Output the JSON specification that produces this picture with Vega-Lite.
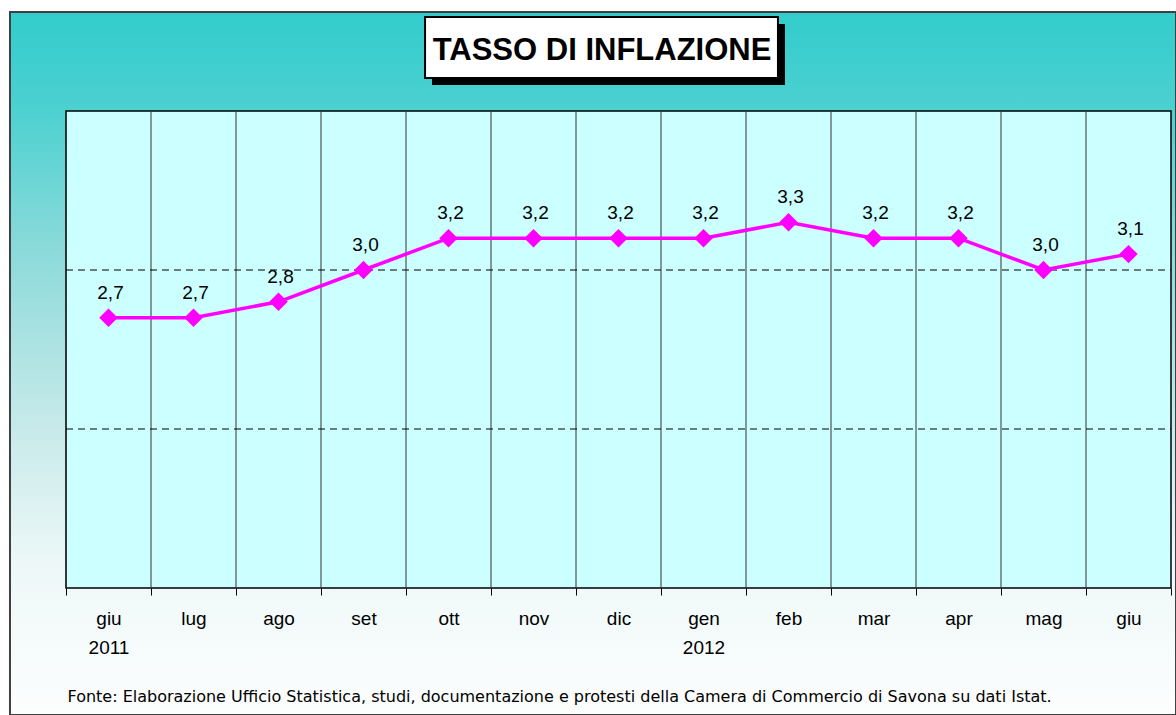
{
  "$schema": "https://vega.github.io/schema/vega-lite/v6.json",
  "width": 1105,
  "height": 477,
  "autosize": {"type": "none"},
  "padding": {"left": 66, "top": 111, "right": 5, "bottom": 127},
  "background": "white",
  "config": {
    "font": "Liberation Sans",
    "view": {"fill": null, "stroke": null}
  },
  "resolve": {"scale": {"x": "independent"}},
  "data": {
    "values": [
      {"m": "giu 2011", "v": 2.7, "lab": "2,7"},
      {"m": "lug", "v": 2.7, "lab": "2,7"},
      {"m": "ago", "v": 2.8, "lab": "2,8"},
      {"m": "set", "v": 3.0, "lab": "3,0"},
      {"m": "ott", "v": 3.2, "lab": "3,2"},
      {"m": "nov", "v": 3.2, "lab": "3,2"},
      {"m": "dic", "v": 3.2, "lab": "3,2"},
      {"m": "gen 2012", "v": 3.2, "lab": "3,2"},
      {"m": "feb", "v": 3.3, "lab": "3,3"},
      {"m": "mar", "v": 3.2, "lab": "3,2"},
      {"m": "apr", "v": 3.2, "lab": "3,2"},
      {"m": "mag", "v": 3.0, "lab": "3,0"},
      {"m": "giu", "v": 3.1, "lab": "3,1"}
    ]
  },
  "layer": [
    {
      "mark": {"type": "point", "opacity": 0},
      "encoding": {
        "x": {"field": "m", "type": "nominal", "sort": null, "scale": {"type": "band", "paddingInner": 0, "paddingOuter": 0}, "axis": null},
        "y": {
          "field": "v", "type": "quantitative", "title": null,
          "scale": {"domain": [1, 4], "nice": false, "zero": false},
          "axis": {
            "orient": "left", "zindex": 1, "values": [1, 2, 3, 4],
            "labelExpr": "replace(format(datum.value, '.1f'), '.', ',')",
            "tickSize": 6, "tickColor": "black", "labelPadding": 17, "labelFontSize": 19,
            "labelColor": "black", "domain": false, "grid": false
          }
        }
      }
    },
    {
      "data": {"values": [{}]},
      "mark": {
        "type": "rect", "stroke": "#404040", "strokeWidth": 2,
        "fill": {"gradient": "linear", "x1": 0, "y1": 0, "x2": 0, "y2": 1,
          "stops": [
            {"offset": 0, "color": "#33CCCC"},
            {"offset": 0.13, "color": "#4AD0D0"},
            {"offset": 0.34, "color": "#8CDADA"},
            {"offset": 0.48, "color": "#AEE3E3"},
            {"offset": 0.61, "color": "#CBEBEB"},
            {"offset": 0.79, "color": "#EEF8F8"},
            {"offset": 1, "color": "#FDFEFE"}
          ]}
      },
      "encoding": {
        "x": {"datum": -1.159, "type": "quantitative", "scale": {"domain": [-0.5, 12.5]}, "axis": null},
        "x2": {"datum": 12.559},
        "y": {"datum": 4.6226, "type": "quantitative", "axis": null},
        "y2": {"datum": 0.2013}
      }
    },
    {
      "data": {"values": [{}]},
      "mark": {"type": "rect", "fill": "#CCFFFF", "stroke": "black", "strokeWidth": 1.5},
      "encoding": {
        "x": {"datum": -0.5, "type": "quantitative", "scale": {"domain": [-0.5, 12.5]}, "axis": null},
        "x2": {"datum": 12.5},
        "y": {"datum": 4, "type": "quantitative", "axis": null},
        "y2": {"datum": 1}
      }
    },
    {
      "mark": {"type": "rule", "stroke": "#333333", "strokeWidth": 1},
      "encoding": {
        "x": {"field": "m", "type": "nominal", "sort": null, "bandPosition": 0,
              "scale": {"type": "band", "paddingInner": 0, "paddingOuter": 0}, "axis": null},
        "y": {"datum": 4, "type": "quantitative", "axis": null},
        "y2": {"datum": 1}
      }
    },
    {
      "data": {"values": [{}]},
      "mark": {"type": "rule", "stroke": "black", "strokeWidth": 1, "strokeDash": [7, 5]},
      "encoding": {
        "x": {"datum": -0.5, "type": "quantitative", "scale": {"domain": [-0.5, 12.5]}, "axis": null},
        "x2": {"datum": 12.5},
        "y": {"datum": 3, "type": "quantitative", "axis": null}
      }
    },
    {
      "data": {"values": [{}]},
      "mark": {"type": "rule", "stroke": "black", "strokeWidth": 1, "strokeDash": [7, 5]},
      "encoding": {
        "x": {"datum": -0.5, "type": "quantitative", "scale": {"domain": [-0.5, 12.5]}, "axis": null},
        "x2": {"datum": 12.5},
        "y": {"datum": 2, "type": "quantitative", "axis": null}
      }
    },
    {
      "mark": {"type": "line", "color": "#FF00FF", "strokeWidth": 3.5},
      "encoding": {
        "x": {
          "field": "m", "type": "nominal", "sort": null,
          "title": "Fonte: Elaborazione Ufficio Statistica, studi, documentazione e protesti della Camera di Commercio di Savona su dati Istat.",
          "scale": {"type": "band", "paddingInner": 0, "paddingOuter": 0},
          "axis": {
            "orient": "bottom", "zindex": 1, "tickBand": "extent", "tickSize": 7, "tickColor": "black", "tickWidth": 1,
            "domain": false, "grid": false,
            "labelPadding": 14, "labelFontSize": 19, "labelLineHeight": 29,
            "labelBaseline": "top", "labelAngle": 0, "labelColor": "black",
            "labelExpr": "isValid(datum.value) ? split(datum.value, ' ') : ''", "labelOverlap": false,
            "titleFont": "DejaVu Sans", "titleFontSize": 16, "titleFontWeight": "normal", "titleColor": "black",
            "titleX": 1, "titleY": 113, "titleAlign": "left", "titleBaseline": "alphabetic",
            "titleAnchor": "start", "titleLimit": 0
          }
        },
        "y": {"field": "v", "type": "quantitative", "axis": null}
      }
    },
    {
      "mark": {"type": "point", "shape": "diamond", "filled": true, "size": 340, "color": "#FF00FF", "opacity": 1},
      "encoding": {
        "x": {"field": "m", "type": "nominal", "sort": null, "scale": {"type": "band", "paddingInner": 0, "paddingOuter": 0}, "axis": null},
        "y": {"field": "v", "type": "quantitative", "axis": null}
      }
    },
    {
      "mark": {"type": "text", "dy": -19, "dx": 2, "baseline": "alphabetic", "fontSize": 19, "color": "black"},
      "encoding": {
        "x": {"field": "m", "type": "nominal", "sort": null, "scale": {"type": "band", "paddingInner": 0, "paddingOuter": 0}, "axis": null},
        "y": {"field": "v", "type": "quantitative", "axis": null},
        "text": {"field": "lab", "type": "nominal"}
      }
    },
    {
      "data": {"values": [{}]},
      "mark": {"type": "rect", "fill": "black", "xOffset": 7, "x2Offset": 7, "yOffset": 7, "y2Offset": 7},
      "encoding": {
        "x": {"datum": 3.724, "type": "quantitative", "scale": {"domain": [-0.5, 12.5]}, "axis": null},
        "x2": {"datum": 7.876},
        "y": {"datum": 4.591, "type": "quantitative", "axis": null},
        "y2": {"datum": 4.208}
      }
    },
    {
      "data": {"values": [{}]},
      "mark": {"type": "rect", "fill": "white", "stroke": "black", "strokeWidth": 2},
      "encoding": {
        "x": {"datum": 3.724, "type": "quantitative", "scale": {"domain": [-0.5, 12.5]}, "axis": null},
        "x2": {"datum": 7.876},
        "y": {"datum": 4.591, "type": "quantitative", "axis": null},
        "y2": {"datum": 4.208}
      }
    },
    {
      "data": {"values": [{"t": "TASSO DI INFLAZIONE"}]},
      "mark": {"type": "text", "fontSize": 31, "fontWeight": "bold", "color": "black", "align": "center", "baseline": "alphabetic"},
      "encoding": {
        "x": {"datum": 5.806, "type": "quantitative", "scale": {"domain": [-0.5, 12.5]}, "axis": null},
        "y": {"datum": 4.321, "type": "quantitative", "axis": null},
        "text": {"field": "t", "type": "nominal"}
      }
    }
  ]
}
